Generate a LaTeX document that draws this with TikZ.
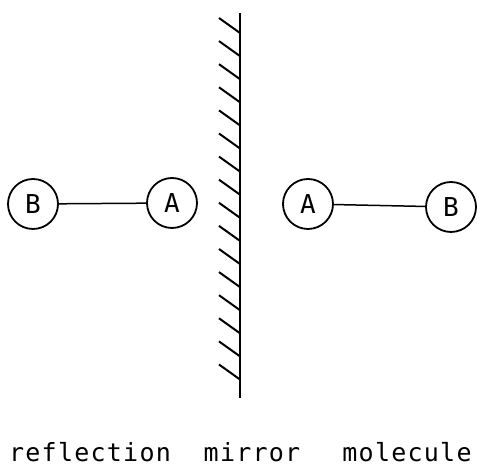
\documentclass[tikz,border=0pt]{standalone}
\usepackage{fontspec}
\usepackage{tikz}
\usetikzlibrary{positioning}
\newfontfamily\atomfont{DejaVu Sans Mono}
\newfontfamily\captionfont{DejaVu Sans Mono}[LetterSpace=5]

\begin{document}
\begin{tikzpicture}[x=1pt,y=1pt,
    atom/.style={circle, draw, line width=1.8pt, minimum size=50pt, inner sep=0pt,
      font=\fontsize{26}{28}\selectfont\atomfont},
    bond/.style={line width=1.5pt},
    caption/.style={anchor=base, inner sep=0pt, font=\fontsize{25}{27}\selectfont\captionfont}]
  \path[use as bounding box] (0,0) rectangle (477,468);
  \fill[white] (0,0) rectangle (477,468);
  % mirror with hatching
  \coordinate (mtop) at (240,455);
  \coordinate (mbot) at (240,70);
  \draw[line width=2.2pt] (mtop) -- (mbot);
  \foreach \k in {0,...,15}{
    \draw[line width=2pt] (219,450-23.1*\k) -- (240,435-23.1*\k);
  }
  % reflection
  \node[atom] (bl) at (33,264) {B};
  \node[atom] (al) at (172,265) {A};
  \draw[bond] (bl) -- (al);
  % molecule
  \node[atom] (ar) at (308,264) {A};
  \node[atom] (br) at (451,261) {B};
  \draw[bond] (ar) -- (br);
  % captions
  \node[caption] (reflection) at (90,6) {reflection};
  \node[caption] (mirror) at (252,6) {mirror};
  \node[caption] (molecule) at (407,6) {molecule};
\end{tikzpicture}
\end{document}
